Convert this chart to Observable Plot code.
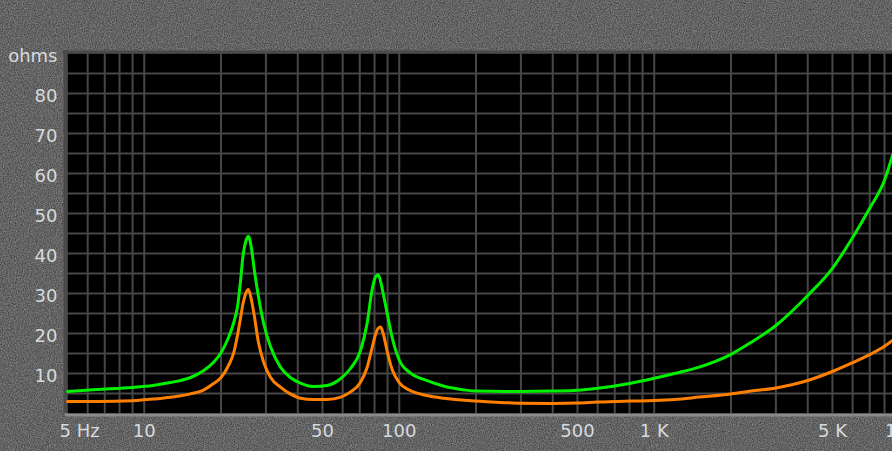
<!DOCTYPE html>
<html><head><meta charset="utf-8">
<script src="https://cdn.jsdelivr.net/npm/d3@7"></script>
<script src="https://cdn.jsdelivr.net/npm/@observablehq/plot@0.6"></script>
<style>
html,body{margin:0;padding:0;width:892px;height:451px;overflow:hidden;background-color:#636363;}
#chart svg{display:block;}
</style></head><body><div id="chart"></div>
<script>
const freq = [5, 6.5, 9, 10.8, 12.3, 13.5, 15.2, 17, 18.7, 20, 21.4, 22.5, 23.2, 23.8, 24.4, 25, 25.6, 26.3, 27, 28, 29.4, 31.3, 34.2, 37.4, 41, 46, 52, 59, 64.4, 70.5, 74.8, 78.3, 80.5, 82.7, 84.5, 86.5, 89.7, 93.8, 99.8, 110, 128, 150, 180, 200, 260, 300, 400, 500, 600, 800, 1000, 1200, 1500, 2000, 2400, 3000, 4000, 5000, 6000, 7000, 8000, 8600];
const greenOhms = [5.5, 6.0, 6.5, 7.0, 7.6, 8.1, 9.0, 10.6, 12.8, 15.2, 19.0, 23.0, 26.6, 32.5, 39.5, 43.0, 44.3, 41.5, 36.0, 29.5, 22.5, 16.6, 11.6, 9.0, 7.6, 6.75, 7.0, 8.75, 11.25, 15.75, 22.5, 31.0, 34.0, 34.7, 33.0, 30.0, 25.0, 19.0, 13.5, 10.2, 8.3, 6.8, 5.9, 5.6, 5.5, 5.5, 5.6, 5.8, 6.3, 7.5, 8.8, 10.0, 11.6, 14.8, 17.8, 22.0, 29.5, 36.3, 44.0, 51.3, 58.3, 64.5];
const orangeOhms = [3.0, 3.0, 3.2, 3.6, 4.0, 4.3, 4.9, 5.8, 7.5, 9.0, 12.0, 15.5, 19.5, 23.5, 27.5, 30.0, 31.0, 28.5, 24.5, 18.0, 12.8, 9.0, 6.6, 4.9, 3.8, 3.5, 3.5, 4.1, 5.4, 7.8, 11.5, 16.5, 19.5, 21.3, 21.6, 20.0, 15.5, 11.0, 7.8, 5.8, 4.5, 3.8, 3.3, 3.1, 2.7, 2.55, 2.5, 2.6, 2.85, 3.1, 3.25, 3.5, 4.1, 4.9, 5.6, 6.4, 8.25, 10.5, 12.7, 14.7, 16.8, 18.25];

const gridFreqs = [6,7,8,9,10,20,30,40,50,60,70,80,90,100,200,300,400,500,600,700,800,900,1000,2000,3000,4000,5000,6000,7000,8000];
const gridOhms = [5,10,15,20,25,30,35,40,45,50,55,60,65,70,75,80,85];
const yTickValues = [10,20,30,40,50,60,70,80,90];
const yTickLabels = ["10","20","30","40","50","60","70","80","ohms"];
const xTickValues = [5,10,50,100,500,1000,5000,10000];
const xTickLabels = ["5 Hz","10","50","100","500","1 K","5 K","10 K"];

// textured grey background
const noise = `<svg xmlns='http://www.w3.org/2000/svg' width='892' height='451'><filter id='n' color-interpolation-filters='sRGB'><feTurbulence type='fractalNoise' baseFrequency='0.85' numOctaves='2' seed='3' stitchTiles='stitch'/><feColorMatrix type='matrix' values='0.4 0 0 0 0.19 0.4 0 0 0 0.19 0.4 0 0 0 0.19 0 0 0 0 1'/></filter><rect width='100%' height='100%' filter='url(#n)'/></svg>`;
document.body.style.backgroundImage = `url("data:image/svg+xml,${encodeURIComponent(noise)}")`;

const greenRows = freq.map((f, i) => ({f, ohms: greenOhms[i]}));
const orangeRows = freq.map((f, i) => ({f, ohms: orangeOhms[i]}));
const yRows = yTickValues.map((v, i) => ({v, label: yTickLabels[i]}));
const xRows = xTickValues.map((v, i) => ({v, label: xTickLabels[i]}));

const textColor = "#d6dade";
const chart = Plot.plot({
  width: 892, height: 451,
  marginLeft: 67, marginRight: 0, marginTop: 53, marginBottom: 38,
  x: {type: "log", domain: [5, 8600], axis: null},
  y: {domain: [0, 90], axis: null},
  style: {background: "transparent", fontFamily: "'DejaVu Sans', sans-serif", fontSize: "18px", color: textColor, overflow: "hidden"},
  marks: [
    Plot.frame({fill: "black", stroke: "none"}),
    Plot.ruleX(gridFreqs, {stroke: "#474747", strokeWidth: 2}),
    Plot.ruleY(gridOhms, {stroke: "#474747", strokeWidth: 2}),
    Plot.ruleX([5], {stroke: "#4a4a4a", strokeWidth: 4, dx: -2, insetTop: -3}),
    Plot.ruleY([90], {stroke: "#4a4a4a", strokeWidth: 3, dy: -1.5, insetLeft: -4}),
    Plot.ruleY([0], {stroke: "#8a8a8a", strokeWidth: 3, dy: 1.5, insetLeft: -2}),
    Plot.line(orangeRows, {x: "f", y: "ohms", stroke: "#ff8000", strokeWidth: 3, curve: "monotone-x"}),
    Plot.line(greenRows, {x: "f", y: "ohms", stroke: "#00f000", strokeWidth: 3, curve: "monotone-x"}),
    Plot.text(yRows, {y: "v", text: "label", frameAnchor: "left", textAnchor: "end", dx: -10, dy: 3, fill: textColor}),
    Plot.text(xRows.slice(0, 1), {x: "v", text: "label", frameAnchor: "bottom", textAnchor: "start", dx: -8, dy: 23, fill: textColor}),
    Plot.text(xRows.slice(1, -1), {x: "v", text: "label", frameAnchor: "bottom", dy: 23, fill: textColor}),
    Plot.text(xRows.slice(-1), {x: "v", text: "label", frameAnchor: "bottom", dx: -4, dy: 23, fill: textColor})
  ]
});
document.getElementById("chart").append(chart);
</script>
</body></html>
